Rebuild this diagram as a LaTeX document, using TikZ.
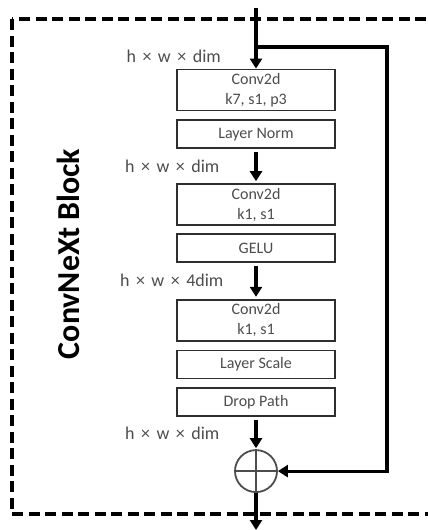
\documentclass[tikz,border=0pt]{standalone}
\usepackage{fontspec}
\setmainfont{Carlito}
\usepackage{xcolor}
\definecolor{textgray}{rgb}{0.3,0.3,0.3}
\definecolor{linegray}{rgb}{0.18,0.18,0.18}
\usetikzlibrary{arrows.meta,positioning}
\newcommand{\dimby}{\hspace{6.5pt}×\hspace{6.5pt}}
\tikzset{
  >={Triangle[length=10pt,width=12pt]},
  layer/.style={rectangle,draw=linegray,line width=1.8pt,minimum width=158pt,minimum height=28pt,inner sep=0pt,text=textgray,font=\fontsize{16}{20}\selectfont,align=center},
  convlayer/.style={layer,minimum height=41pt},
  edge/.style={->,line width=3.2pt},
  dimlabel/.style={inner sep=0pt,text=textgray,font=\fontsize{18}{22}\selectfont},
  addop/.style={circle,draw=textgray,line width=1.8pt,minimum size=42pt,inner sep=0pt},
  blockbox/.style={draw,line width=3.5pt,dash pattern=on 11pt off 5.5pt},
  blocktitle/.style={inner sep=0pt,font=\bfseries\fontsize{32}{38}\selectfont}
}

\begin{document}
\begin{tikzpicture}[x=1pt,y=-1pt]
  \useasboundingbox (0,0) rectangle (428,530);
  \clip (0,0) rectangle (428,530);
  \draw[blockbox] (12,19) rectangle (450,514);

  \node[blocktitle,rotate=90] (blockname) at (68,254) {ConvNeXt Block};

  \node[convlayer] (dwconv) at (256,90) {Conv2d\\k7, s1, p3};
  \node[layer,below=8pt of dwconv] (norm) {Layer Norm};
  \node[convlayer,below=34pt of norm] (pwconv1) {Conv2d\\k1, s1};
  \node[layer,below=7pt of pwconv1] (gelu) {GELU};
  \node[convlayer,below=36pt of gelu] (pwconv2) {Conv2d\\k1, s1};
  \node[layer,below=8pt of pwconv2] (scale) {Layer Scale};
  \node[layer,below=8pt of scale] (drop) {Drop Path};
  \node[addop,below=32pt of drop] (add) {};
  \draw[line width=1.8pt,draw=textgray] (add.north) -- (add.south) (add.west) -- (add.east);

  \coordinate (in) at (256,8);
  \coordinate (out) at (256,530);
  \coordinate (skip) at (256,47);
  \coordinate (skipright) at (387,47);

  \node[dimlabel,anchor=east] (dim1) at (221,56) {h\dimby w\dimby dim};
  \draw[edge] (in) -- (dwconv.north);
  \draw[edge,shorten <=3pt,shorten >=2pt] (norm) -- node[dimlabel,left=35pt] (dim2) {h\dimby w\dimby dim} (pwconv1);
  \draw[edge,shorten <=3pt,shorten >=2pt] (gelu) -- node[dimlabel,left=31pt] (dim3) {h\dimby w\dimby 4dim} (pwconv2);
  \draw[edge,shorten <=3pt,shorten >=1pt] (drop) -- node[dimlabel,left=35pt] (dim4) {h\dimby w\dimby dim} (add);
  \draw[edge] (skip) -- (skipright) |- (add.east);
  \draw[edge] (add) -- (out);
\end{tikzpicture}
\end{document}
